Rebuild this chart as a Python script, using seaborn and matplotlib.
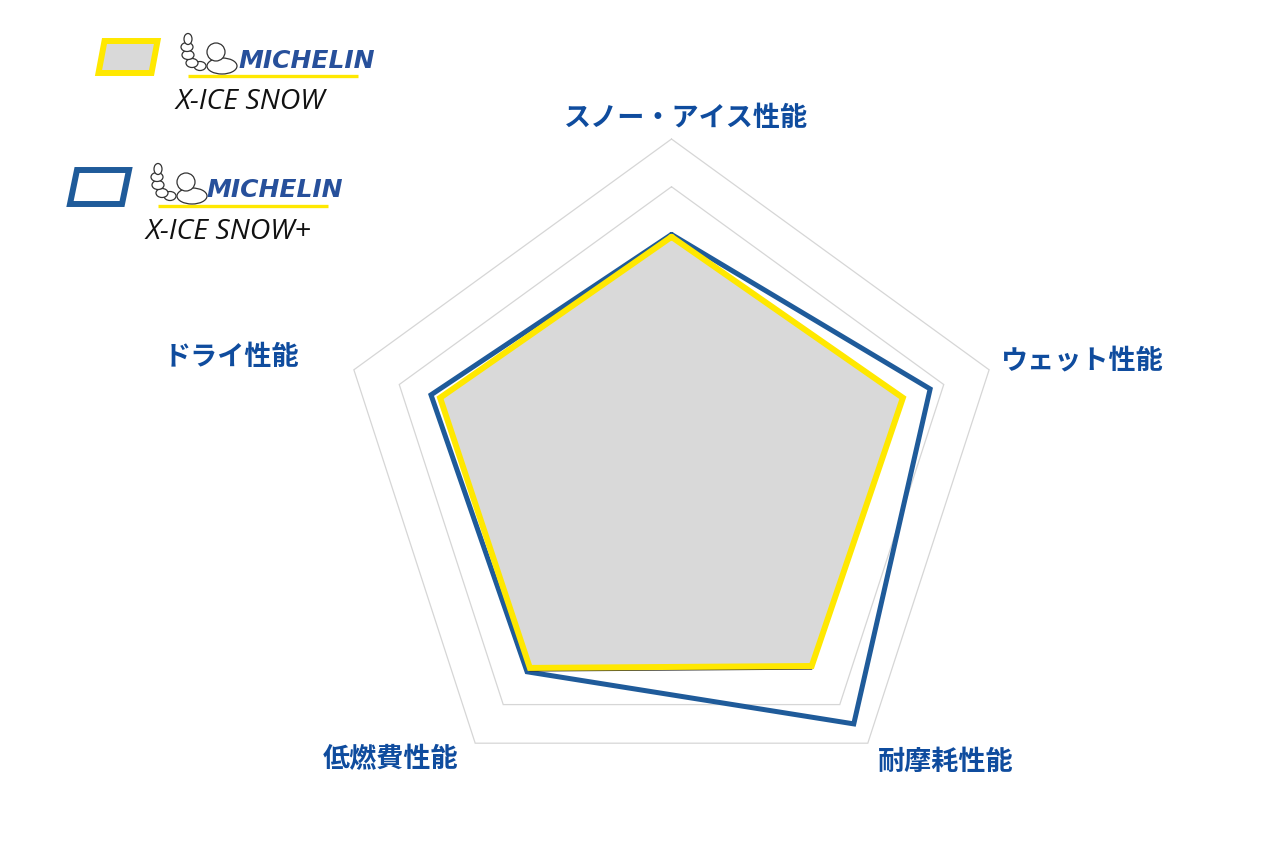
import numpy as np
import pandas as pd
import seaborn as sns
import matplotlib.pyplot as plt
from matplotlib.patches import Polygon, Ellipse, Circle

# Data
categories = ['スノー・アイス性能', 'ウェット性能', '耐摩耗性能', '低燃費性能', 'ドライ性能']
x_ice_snow = [4.95, 5.1, 5.0, 5.05, 5.1]
x_ice_snow_plus = [5.0, 5.7, 6.5, 5.15, 5.3]
ring_levels = [1, 2, 3, 4, 5, 6, 7]
series_names = ['X-ICE SNOW', 'X-ICE SNOW+']
brand = 'MICHELIN'

# Colours
YELLOW = '#FFE800'
BLUE = '#1F5B9A'
GRAY = '#D9D9D9'
GRID = '#D6D6D6'
LABEL = '#0F4C9E'

sns.set_theme(style='white')
plt.rcParams['font.family'] = ['Noto Sans CJK JP', 'DejaVu Sans']

W, H = 1280, 853
fig = plt.figure(figsize=(12.8, 8.53), dpi=100)

# radar axes: full figure, 1 unit = unit_px pixels, centre at (cx, cy) px
cx, cy, unit_px = 671.5, 474.0, 47.71
ax = fig.add_axes([0, 0, 1, 1])
ax.set_xlim(-cx / unit_px, (W - cx) / unit_px)
ax.set_ylim(-(H - cy) / unit_px, cy / unit_px)
ax.set_aspect('equal')
ax.axis('off')

n = len(categories)
theta = np.arange(n) * 2 * np.pi / n


def polygon(values):
    v = np.asarray(values, dtype=float)
    xs = v * np.sin(theta)
    ys = v * np.cos(theta)
    return pd.DataFrame({'x': np.append(xs, xs[0]), 'y': np.append(ys, ys[0])})


# grid rings
for lvl in ring_levels:
    g = polygon([lvl] * n)
    sns.lineplot(data=g, x='x', y='y', sort=False, estimator=None, ax=ax,
                 color=GRID, linewidth=0.9, zorder=1)

# X-ICE SNOW+ (blue outline)
p2 = polygon(x_ice_snow_plus)
sns.lineplot(data=p2, x='x', y='y', sort=False, estimator=None, ax=ax,
             color=BLUE, linewidth=3.6, zorder=3)

# X-ICE SNOW (gray fill, yellow edge, faint dark shadow on the bottom side)
p1 = polygon(x_ice_snow)
ax.fill(p1['x'], p1['y'], color=GRAY, zorder=2)
ax.plot(p1['x'][2:4], p1['y'][2:4] - 0.06, color='#333333', linewidth=1.2,
        zorder=3.5)
sns.lineplot(data=p1, x='x', y='y', sort=False, estimator=None, ax=ax,
             color=YELLOW, linewidth=4.3, zorder=4)
for ln in ax.lines:
    ln.set_solid_joinstyle('miter')

# axis labels
label_pos = [(0.30, 7.47), (8.60, 2.37), (5.75, -6.04), (-5.88, -5.98), (-9.22, 2.45)]
for name, (lx, ly) in zip(categories, label_pos):
    ax.text(lx, ly, name, ha='center', va='center', fontsize=19.5,
            fontweight='bold', color=LABEL, clip_on=False)

# legend overlay in pixel coordinates
lg = fig.add_axes([0, 0, 1, 1])
lg.set_xlim(0, W)
lg.set_ylim(H, 0)
lg.axis('off')
lg.patch.set_alpha(0)


def bibendum(x0, y0):
    # simple sketch of the mascot
    kw = dict(facecolor='white', edgecolor='#333333', linewidth=0.9, zorder=5)
    lg.add_patch(Ellipse((x0 + 40, y0 + 30), 30, 16, **kw))
    lg.add_patch(Circle((x0 + 34, y0 + 16), 9, **kw))
    for ex, ey in [(x0 + 18, y0 + 30), (x0 + 10, y0 + 27),
                   (x0 + 6, y0 + 19), (x0 + 5, y0 + 11)]:
        lg.add_patch(Ellipse((ex, ey), 12, 9, **kw))
    lg.add_patch(Ellipse((x0 + 6, y0 + 3), 8, 11, **kw))


def legend_entry(corners, face, edge, bx, by, tx, ty, ux0, ux1, uy, name):
    lg.add_patch(Polygon(corners, closed=True, facecolor=face, edgecolor=edge,
                         linewidth=4.3, joinstyle='miter', zorder=4))
    bibendum(bx, by)
    lg.text(tx, ty, brand, ha='left', va='center', fontsize=18,
            fontweight='heavy', style='italic', color='#27509B',
            family='DejaVu Sans', zorder=6)
    lg.plot([ux0, ux1], [uy, uy], color=YELLOW, linewidth=2.4,
            solid_capstyle='butt', zorder=4)
    lg.text(ux0 - 13, uy + 25, name, ha='left', va='center', fontsize=20.5,
            style='italic', color='#111111', family='Open Sans')


legend_entry([(104.5, 42), (157.5, 42), (151.5, 74), (98.5, 74)], GRAY, YELLOW,
             182, 37, 238, 61, 188, 358, 76.5, series_names[0])
legend_entry([(77, 171), (129, 171), (122, 205), (70, 205)], 'white', BLUE,
             152, 167, 206, 190, 158, 328, 206.5, series_names[1])

fig.savefig('out.png', dpi=100)
